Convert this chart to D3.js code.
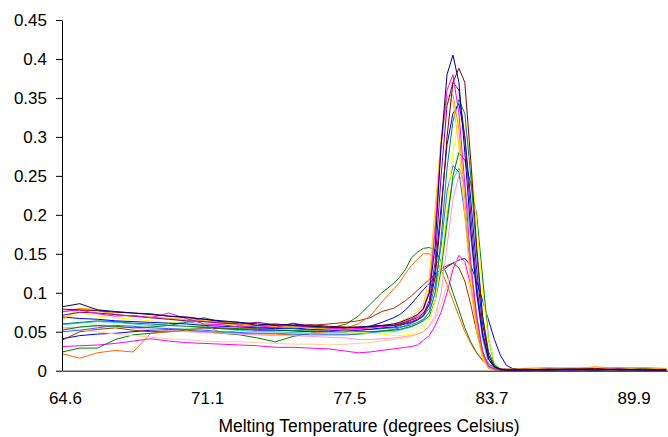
<!DOCTYPE html>
<html><head><meta charset="utf-8">
<script src="https://cdn.jsdelivr.net/npm/d3@7"></script>
<style>
body{margin:0;background:#fff}
svg{display:block}
text{font-family:"Liberation Sans",Arial,sans-serif;fill:#000}
</style>
</head><body>
<svg id="c" width="668" height="437"></svg>
<script>
// category index of each reading (temperature steps)
const idx = [0,3,6,9,12,15,18,21,24,27,30,33,36,39,42,45,48,50,52,54,56,57,58,59,60,61,62,63,64,65,66,67,68,69,70,71,72,73,74,75,76,78,82,86,90,94,98,102];
// x tick labels and the category positions they sit on
const xTickLabels = ["64.6","71.1","77.5","83.7","89.9"];
const xTickCats = [0.5,24.5,48.5,72.5,96.5];
const yTickValues = [0,0.05,0.1,0.15,0.2,0.25,0.3,0.35,0.4,0.45];
const yTickLabels = ["0","0.05","0.1","0.15","0.2","0.25","0.3","0.35","0.4","0.45"];
const xTitle = "Melting Temperature (degrees Celsius)";

const s01 = [0.082,0.086,0.078,0.076,0.074,0.072,0.070,0.069,0.066,0.064,0.062,0.060,0.058,0.060,0.057,0.056,0.055,0.056,0.057,0.058,0.060,0.062,0.065,0.068,0.072,0.080,0.100,0.160,0.290,0.380,0.405,0.370,0.280,0.180,0.100,0.045,0.015,0.005,0.002,0.001,0.001,0.001,0.002,0.002,0.001,0.002,0.001,0.001];
const s02 = [0.079,0.078,0.077,0.075,0.074,0.073,0.070,0.068,0.066,0.063,0.062,0.058,0.060,0.058,0.059,0.057,0.056,0.056,0.057,0.058,0.058,0.060,0.062,0.065,0.068,0.074,0.085,0.120,0.200,0.300,0.370,0.388,0.370,0.270,0.160,0.070,0.020,0.005,0.002,0.001,0.001,0.002,0.001,0.002,0.003,0.001,0.002,0.001];
const s03 = [0.076,0.078,0.073,0.070,0.071,0.068,0.074,0.067,0.060,0.059,0.056,0.058,0.055,0.061,0.057,0.055,0.053,0.054,0.055,0.057,0.058,0.060,0.063,0.066,0.070,0.078,0.100,0.180,0.290,0.360,0.380,0.330,0.240,0.140,0.070,0.025,0.006,0.002,0.001,0.001,0.001,0.001,0.002,0.001,0.002,0.002,0.001,0.001];
const s04 = [0.066,0.074,0.070,0.068,0.066,0.064,0.062,0.060,0.060,0.058,0.057,0.055,0.054,0.053,0.052,0.052,0.050,0.049,0.048,0.047,0.045,0.045,0.046,0.047,0.050,0.055,0.065,0.090,0.140,0.210,0.280,0.325,0.315,0.270,0.190,0.100,0.040,0.010,0.002,0.001,0.001,0.002,0.003,0.002,0.002,0.001,0.002,0.001];
const s05 = [0.071,0.075,0.074,0.072,0.070,0.068,0.066,0.064,0.063,0.061,0.060,0.062,0.059,0.058,0.056,0.055,0.055,0.055,0.056,0.057,0.058,0.059,0.061,0.063,0.066,0.072,0.090,0.140,0.250,0.340,0.370,0.360,0.300,0.200,0.110,0.050,0.015,0.004,0.001,0.001,0.001,0.001,0.001,0.002,0.001,0.002,0.001,0.001];
const s06 = [0.060,0.062,0.064,0.063,0.061,0.060,0.058,0.062,0.068,0.062,0.058,0.056,0.055,0.054,0.052,0.053,0.052,0.052,0.053,0.054,0.055,0.056,0.057,0.059,0.062,0.066,0.075,0.100,0.170,0.260,0.320,0.348,0.330,0.250,0.150,0.070,0.025,0.007,0.002,0.001,0.001,0.001,0.002,0.001,0.001,0.002,0.001,0.001];
const s07 = [0.069,0.067,0.066,0.064,0.063,0.062,0.061,0.060,0.058,0.057,0.056,0.055,0.054,0.055,0.053,0.052,0.051,0.052,0.053,0.055,0.056,0.058,0.060,0.062,0.065,0.070,0.085,0.130,0.210,0.290,0.330,0.343,0.300,0.220,0.130,0.060,0.020,0.005,0.002,0.001,0.001,0.001,0.001,0.001,0.002,0.001,0.001,0.001];
const s08 = [0.059,0.061,0.063,0.062,0.060,0.058,0.060,0.063,0.059,0.048,0.052,0.050,0.050,0.049,0.048,0.047,0.047,0.047,0.048,0.050,0.050,0.052,0.054,0.056,0.060,0.065,0.075,0.100,0.140,0.200,0.245,0.260,0.240,0.170,0.100,0.040,0.010,0.002,0.001,0.001,0.001,0.001,0.001,0.002,0.001,0.001,0.001,0.001];
const s09 = [0.050,0.052,0.055,0.058,0.057,0.055,0.054,0.053,0.052,0.050,0.049,0.048,0.048,0.047,0.046,0.046,0.046,0.047,0.049,0.051,0.053,0.055,0.058,0.061,0.065,0.070,0.080,0.110,0.160,0.230,0.263,0.255,0.200,0.130,0.070,0.025,0.006,0.002,0.001,0.001,0.001,0.001,0.001,0.001,0.001,0.001,0.001,0.001];
const s10 = [0.055,0.056,0.057,0.056,0.055,0.053,0.052,0.050,0.049,0.048,0.047,0.046,0.045,0.045,0.044,0.043,0.042,0.040,0.040,0.041,0.042,0.043,0.044,0.045,0.047,0.050,0.058,0.070,0.100,0.160,0.220,0.250,0.240,0.180,0.110,0.050,0.015,0.003,0.001,0.001,0.001,0.001,0.001,0.001,0.001,0.001,0.001,0.001];
const s11 = [0.065,0.080,0.079,0.072,0.070,0.068,0.066,0.064,0.063,0.060,0.059,0.058,0.057,0.056,0.055,0.054,0.053,0.054,0.056,0.058,0.060,0.063,0.066,0.070,0.075,0.085,0.120,0.210,0.300,0.350,0.345,0.290,0.200,0.110,0.050,0.015,0.003,0.001,0.001,0.001,0.001,0.002,0.003,0.004,0.002,0.003,0.004,0.002];
const s12 = [0.075,0.080,0.077,0.072,0.070,0.069,0.067,0.066,0.064,0.062,0.060,0.058,0.057,0.056,0.055,0.053,0.052,0.053,0.055,0.057,0.059,0.061,0.064,0.067,0.072,0.080,0.105,0.190,0.290,0.352,0.354,0.310,0.220,0.130,0.060,0.020,0.003,0.001,0.001,0.001,0.001,0.003,0.004,0.002,0.005,0.003,0.004,0.003];
const s13 = [0.060,0.060,0.059,0.058,0.057,0.056,0.055,0.054,0.053,0.052,0.051,0.050,0.050,0.049,0.048,0.048,0.047,0.047,0.047,0.048,0.048,0.049,0.050,0.052,0.055,0.060,0.068,0.085,0.120,0.180,0.250,0.290,0.300,0.270,0.200,0.120,0.050,0.012,0.003,0.001,0.001,0.001,0.002,0.001,0.001,0.002,0.001,0.001];
const s14 = [0.052,0.056,0.058,0.057,0.055,0.056,0.058,0.057,0.056,0.055,0.054,0.053,0.052,0.052,0.051,0.050,0.050,0.050,0.050,0.051,0.052,0.053,0.055,0.057,0.060,0.064,0.070,0.090,0.130,0.190,0.250,0.280,0.270,0.240,0.200,0.120,0.040,0.008,0.002,0.001,0.001,0.002,0.001,0.002,0.002,0.001,0.003,0.002];
const s15 = [0.055,0.052,0.050,0.047,0.045,0.043,0.041,0.040,0.038,0.037,0.037,0.036,0.035,0.034,0.034,0.033,0.034,0.035,0.036,0.038,0.040,0.041,0.042,0.044,0.047,0.050,0.056,0.066,0.085,0.110,0.135,0.145,0.135,0.100,0.060,0.025,0.007,0.002,0.001,0.001,0.001,0.002,0.003,0.004,0.003,0.002,0.003,0.002];
const s16 = [0.022,0.016,0.023,0.026,0.024,0.048,0.050,0.051,0.050,0.049,0.048,0.047,0.047,0.046,0.048,0.050,0.055,0.060,0.070,0.088,0.105,0.113,0.125,0.135,0.143,0.150,0.150,0.145,0.130,0.110,0.090,0.070,0.050,0.035,0.022,0.013,0.007,0.004,0.003,0.002,0.002,0.002,0.003,0.004,0.003,0.004,0.003,0.002];
const s17 = [0.024,0.029,0.029,0.040,0.046,0.048,0.050,0.052,0.050,0.048,0.046,0.042,0.037,0.044,0.048,0.054,0.060,0.070,0.085,0.100,0.112,0.120,0.130,0.145,0.152,0.157,0.158,0.155,0.140,0.123,0.100,0.078,0.055,0.037,0.023,0.014,0.008,0.005,0.003,0.002,0.002,0.002,0.001,0.002,0.002,0.001,0.002,0.001];
const s18 = [0.039,0.050,0.053,0.055,0.052,0.050,0.051,0.053,0.055,0.054,0.053,0.054,0.056,0.057,0.058,0.060,0.062,0.064,0.068,0.076,0.080,0.085,0.090,0.096,0.103,0.110,0.117,0.124,0.130,0.135,0.138,0.132,0.115,0.085,0.050,0.022,0.008,0.003,0.002,0.001,0.001,0.001,0.002,0.001,0.001,0.002,0.001,0.001];
const s19 = [0.031,0.032,0.033,0.035,0.038,0.041,0.038,0.036,0.035,0.034,0.033,0.032,0.030,0.030,0.029,0.028,0.025,0.023,0.024,0.026,0.028,0.029,0.030,0.031,0.033,0.039,0.045,0.058,0.075,0.100,0.130,0.148,0.140,0.110,0.060,0.020,0.005,0.002,0.001,0.001,0.001,0.001,0.001,0.001,0.001,0.001,0.001,0.001];
const s20 = [0.041,0.045,0.047,0.048,0.050,0.052,0.053,0.054,0.055,0.054,0.053,0.052,0.052,0.051,0.050,0.050,0.050,0.054,0.057,0.062,0.068,0.072,0.078,0.086,0.095,0.104,0.112,0.120,0.127,0.133,0.138,0.142,0.144,0.135,0.115,0.090,0.065,0.040,0.020,0.007,0.003,0.001,0.002,0.001,0.001,0.001,0.002,0.001];

const seriesValues = [s20,s19,s18,s17,s16,s15,s13,s10,s08,s09,s14,s04,s06,s07,s11,s12,s05,s03,s02,s01];
const seriesColors = ["#0000FF","#FF00FF","#993300","#008000","#FF6600","#FFCC99","#CCFFCC","#FF99CC","#33CCCC","#3366FF","#008000","#FFFF00","#008080","#0000FF","#FFCC00","#FF9900","#800080","#FF00FF","#800000","#000080"];

const svg = d3.select("#c");
const x = d3.scaleLinear().domain([0, 102.3]).range([62, 668]);
const y = d3.scaleLinear().domain([0, 0.45]).range([370.7, 20]);

const line = d3.line().x((d, i) => x(idx[i])).y(d => y(d));
svg.append("g").selectAll("path").data(seriesValues).join("path")
  .attr("d", line).attr("fill", "none")
  .attr("stroke", (d, i) => seriesColors[i]).attr("stroke-width", 1)
  .attr("stroke-linejoin", "miter");

const ya = svg.append("g").attr("transform", "translate(62,0)")
  .call(d3.axisLeft(y).tickValues(yTickValues).tickFormat((d, i) => yTickLabels[i])
    .tickSize(6).tickSizeOuter(0).tickPadding(9));
ya.selectAll("text").attr("font-size", 17).attr("font-family", "Liberation Sans, Arial, sans-serif").attr("fill", "#000");
ya.selectAll("line,path").attr("stroke", "#000");

const xa = svg.append("g").attr("transform", "translate(0,370.7)")
  .call(d3.axisBottom(x).tickValues(xTickCats).tickFormat((d, i) => xTickLabels[i])
    .tickSize(0).tickSizeOuter(0).tickPadding(21));
xa.selectAll("text").attr("font-size", 17).attr("font-family", "Liberation Sans, Arial, sans-serif").attr("fill", "#000");
xa.selectAll("path").attr("stroke", "#000");

svg.append("text").attr("x", 369).attr("y", 432).attr("text-anchor", "middle")
  .attr("font-size", 17.5).text(xTitle);
</script>
</body></html>
